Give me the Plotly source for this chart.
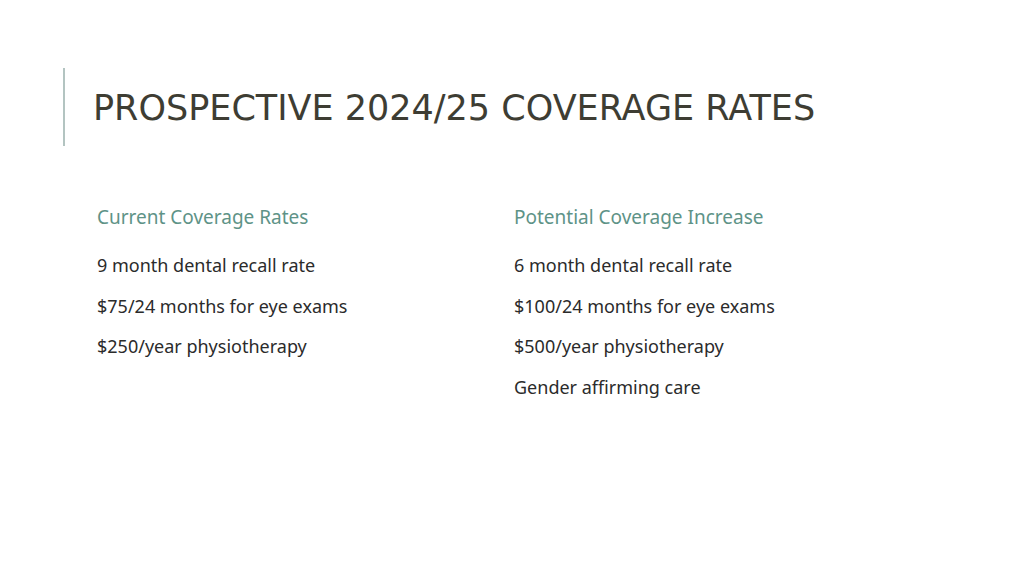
import plotly.graph_objects as go

title = "PROSPECTIVE 2024/25 COVERAGE RATES"
left_header = "Current Coverage Rates"
right_header = "Potential Coverage Increase"
left_items = ["9 month dental recall rate", "$75/24 months for eye exams", "$250/year physiotherapy"]
right_items = ["6 month dental recall rate", "$100/24 months for eye exams", "$500/year physiotherapy", "Gender affirming care"]

W, H = 1024, 576
fig = go.Figure()
def px(x): return (x - 8) / W
def py(y): return 1 - (y - 8) / H

ann = []
ann.append(dict(text=title, x=px(91), y=py(108), xanchor="left", yanchor="middle",
                font=dict(family="DejaVu Sans", size=35, color="#3e3d33"),
                showarrow=False, xref="paper", yref="paper"))
body_font = "Noto Sans, Lato, sans-serif"
for x0, head, items in [(95, left_header, left_items), (512, right_header, right_items)]:
    ann.append(dict(text=head, x=px(x0), y=py(217), xanchor="left", yanchor="middle",
                    font=dict(family=body_font, size=19, color="#5e9387"),
                    showarrow=False, xref="paper", yref="paper"))
    for i, t in enumerate(items):
        ann.append(dict(text=t, x=px(x0), y=py(265 + 40.5 * i), xanchor="left", yanchor="middle",
                        font=dict(family=body_font, size=18, color="#2b2b2b"),
                        showarrow=False, xref="paper", yref="paper"))

fig.update_layout(width=W, height=H, margin=dict(l=0, r=0, t=0, b=0),
                  paper_bgcolor="white", plot_bgcolor="white",
                  xaxis=dict(visible=False, range=[0, 1]), yaxis=dict(visible=False, range=[0, 1]),
                  annotations=ann,
                  shapes=[dict(type="line", xref="paper", yref="paper", x0=px(64), x1=px(64),
                               y0=py(68), y1=py(146), line=dict(color="#b3c4c1", width=2))])
fig.write_html("out.html")
